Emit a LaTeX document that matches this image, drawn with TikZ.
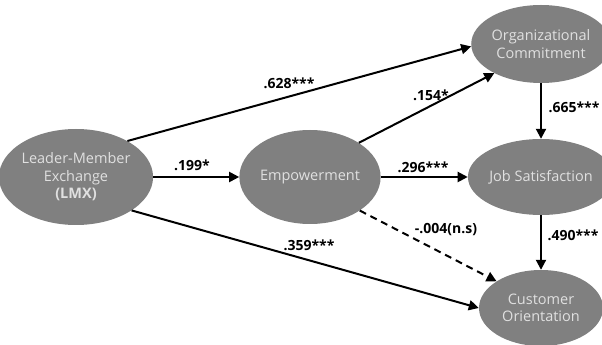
\documentclass[tikz,border=0pt]{standalone}
\usepackage{fontspec}
\setmainfont{Open Sans}
\usetikzlibrary{shapes.geometric,arrows.meta}
\definecolor{nodefill}{HTML}{808080}
\definecolor{nodetext}{HTML}{E0E0E0}
\tikzset{
  var/.style={ellipse, fill=nodefill, text=nodetext, inner sep=0pt, align=center,
    font=\fontsize{14.5}{17.5}\selectfont},
  path/.style={line width=2pt, -{Triangle[length=10pt,width=10pt]}},
  coef/.style={font=\fontsize{14}{16}\selectfont\bfseries, inner sep=0pt}
}
\begin{document}
\begin{tikzpicture}[x=1pt,y=1pt]
\useasboundingbox (0,0) rectangle (602,345);
\node[var, minimum width=134pt, minimum height=96pt] (lmx) at (76,168) {Leader-Member\\Exchange\\\textbf{(LMX)}};
\node[var, minimum width=134pt, minimum height=94pt] (emp) at (310,168) {Empowerment};
\node[var, minimum width=124pt, minimum height=78pt] (org) at (541,301) {Organizational\\Commitment};
\node[var, minimum width=124pt, minimum height=76pt] (js) at (541,168) {Job Satisfaction};
\node[var, minimum width=124pt, minimum height=76pt] (co) at (541,37) {Customer\\Orientation};

\draw[path] (lmx.35) -- (org.182);
\draw[path] (lmx) -- (emp);
\draw[path] (lmx.-31) -- (co.180);
\draw[path] (emp.35) -- (org.212);
\draw[path] (emp) -- (js);
\draw[path, dashed, dash pattern=on 7pt off 5pt] (emp.-34) -- (co.149);
\draw[path] (org) -- (js);
\draw[path] (js) -- (co);

\node[coef] (l1) at (289,262) {.628***};
\node[coef] (l2) at (192,180) {.199*};
\node[coef] (l3) at (309,100) {.359***};
\node[coef] (l4) at (431,250) {.154*};
\node[coef] (l5) at (423,178) {.296***};
\node[coef] (l6) at (446,115) {-.004(n.s)};
\node[coef] (l7) at (574,238) {.665***};
\node[coef] (l8) at (573,110) {.490***};
\end{tikzpicture}
\end{document}
